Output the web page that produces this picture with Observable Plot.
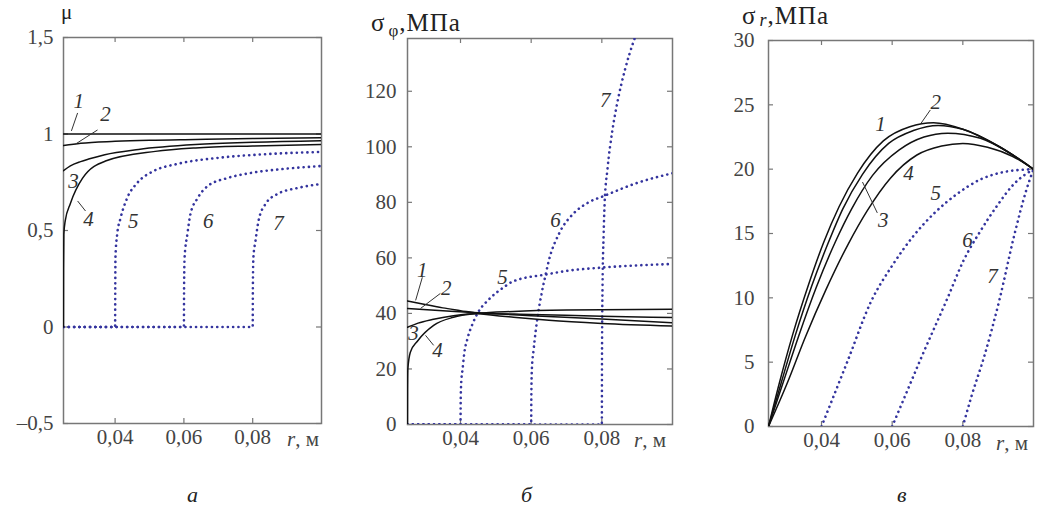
<!DOCTYPE html>
<html><head><meta charset="utf-8">
<script src="https://cdn.jsdelivr.net/npm/d3@7"></script>
<script src="https://cdn.jsdelivr.net/npm/@observablehq/plot@0.6"></script>
<style>
body{margin:0;background:#fff;font-family:"Liberation Serif","Times New Roman","DejaVu Serif",serif;}
#wrap{position:relative;width:1041px;height:508px;overflow:hidden;background:#fff;}
.p{position:absolute;top:0;}
.t{position:absolute;font-size:20px;color:#222;white-space:nowrap;line-height:1;font-family:"Liberation Serif","Times New Roman","DejaVu Serif",serif;}
.t .s{margin-left:3px;margin-right:1px;letter-spacing:0;position:relative;}
</style></head><body><div id="wrap"></div><script>
// ---------- data: r in m ----------
const xTicks = [0.04, 0.06, 0.08];
const xDomain = [0.025, 0.1];

// panel a: mu
const muTicks = [-0.5, 0, 0.5, 1, 1.5];
const mu1 = [[0.025,1],[0.1,1]];
const mu2 = [[0.025,0.94],[0.03,0.952],[0.04,0.962],[0.05,0.968],[0.0634,0.972],[0.08,0.977],[0.1,0.98]];
const mu3 = [[0.025,0.81],[0.027,0.835],[0.03,0.857],[0.0323,0.87],[0.037,0.893],[0.0468,0.92],[0.0634,0.945],[0.08,0.957],[0.1,0.965]];
const mu4 = [[0.025,0],[0.02502,0.3],[0.0251,0.48],[0.0255,0.55],[0.027,0.64],[0.0305,0.77],[0.0372,0.86],[0.0517,0.91],[0.0634,0.928],[0.08,0.938],[0.1,0.945]];
const mu5 = [[0.025,0],[0.04,0],[0.04005,0.2],[0.0401,0.36],[0.0406,0.48],[0.0416,0.565],[0.0435,0.668],[0.0464,0.746],[0.0512,0.808],[0.0581,0.845],[0.0698,0.876],[0.0843,0.896],[0.1,0.907]];
const mu6 = [[0.025,0],[0.06,0],[0.06005,0.2],[0.0602,0.36],[0.061,0.48],[0.0619,0.585],[0.064,0.668],[0.0669,0.73],[0.0727,0.772],[0.0794,0.798],[0.089,0.819],[0.1,0.834]];
const mu7 = [[0.025,0],[0.08,0],[0.08005,0.2],[0.0802,0.36],[0.0808,0.445],[0.0817,0.55],[0.0837,0.637],[0.0872,0.689],[0.093,0.72],[0.1,0.741]];

// panel b: sigma_phi, MPa
const sphTicks = [0, 20, 40, 60, 80, 100, 120];
const sph1 = [[0.025,44.5],[0.03,43.2],[0.035,42],[0.04,41],[0.045,40],[0.055,38.6],[0.065,37.5],[0.08,36.4],[0.1,35.5]];
const sph2 = [[0.025,41.8],[0.035,41],[0.045,40.2],[0.06,39.2],[0.08,38],[0.1,36.6]];
const sph3 = [[0.025,35],[0.028,36.5],[0.032,37.8],[0.038,39.2],[0.045,40],[0.06,39.6],[0.08,39],[0.1,38.5]];
const sph4 = [[0.025,0],[0.02502,12],[0.0251,20],[0.0258,26],[0.0278,30],[0.0324,35.7],[0.038,38.6],[0.045,40],[0.055,40.7],[0.07,41.2],[0.1,41.5]];
const sph5 = [[0.025,0],[0.04,0],[0.04005,8],[0.0402,15],[0.0406,20],[0.041,25],[0.042,31],[0.0435,36.5],[0.0448,40],[0.048,45],[0.052,49.2],[0.055,51.6],[0.0641,54],[0.07,55.3],[0.08,56.5],[0.09,57.3],[0.1,57.8]];
const sph6 = [[0.025,0],[0.06,0],[0.06005,10],[0.0602,20],[0.0607,27],[0.0618,38.6],[0.063,47.5],[0.0641,54],[0.065,59],[0.068,69],[0.072,76],[0.076,79.8],[0.081,82.5],[0.09,87],[0.1,90.5]];
const sph7 = [[0.025,0],[0.08,0],[0.08005,25],[0.0802,50],[0.0805,68],[0.0808,80],[0.0816,92],[0.083,106],[0.0844,116],[0.0866,128],[0.089,138],[0.093,150]];

// panel c: sigma_r, MPa
const srTicks = [0, 5, 10, 15, 20, 25, 30];
const sr1 = [[0.025,0],[0.028,3.3],[0.0318,7.1],[0.0363,11],[0.0406,14.3],[0.045,17.1],[0.0502,19.7],[0.0575,22.2],[0.065,23.3],[0.0717,23.6],[0.08,23.1],[0.09,21.8],[0.1,20]];
const sr2 = [[0.025,0],[0.0285,3.3],[0.0326,7.1],[0.0372,10.9],[0.0418,14.2],[0.046,16.9],[0.0516,19.6],[0.059,22],[0.066,23],[0.073,23.4],[0.08,23.1],[0.09,21.8],[0.1,20]];
const sr3 = [[0.025,0],[0.029,3.3],[0.0335,7],[0.0385,10.8],[0.044,14.4],[0.0485,16.9],[0.0544,19.5],[0.062,21.5],[0.069,22.5],[0.0757,22.8],[0.085,22.4],[0.093,21.3],[0.1,20]];
const sr4 = [[0.025,0],[0.0302,3.3],[0.0355,7],[0.0412,10.6],[0.0476,14.2],[0.053,16.8],[0.0595,19.3],[0.067,21.1],[0.074,21.8],[0.08,22],[0.087,21.7],[0.094,21],[0.1,20]];
const sr5 = [[0.04,0],[0.0474,5.1],[0.054,9.7],[0.06,12.5],[0.066,14.8],[0.072,16.6],[0.078,18],[0.085,19.2],[0.092,19.8],[0.1,20]];
const sr6 = [[0.06,0],[0.064,2.6],[0.068,5.2],[0.0757,10],[0.0802,12.9],[0.085,15.2],[0.0898,17.2],[0.0943,18.8],[0.1,20]];
const sr7 = [[0.08,0],[0.0825,2.4],[0.086,5.4],[0.0905,10],[0.0945,14.8],[0.098,18.4],[0.1,20]];

// curve number annotations [r, value, text]
const labA = [[0.0294,1.171,"1"],[0.0372,1.104,"2"],[0.0279,0.756,"3"],[0.0323,0.56,"4"],[0.0453,0.549,"5"],[0.0671,0.549,"6"],[0.0875,0.539,"7"]];
const leadA = [[0.0273,1.016,0.0291,1.109],[0.0285,0.948,0.0349,1.021],[0.0291,0.653,0.0314,0.601]];
const labB = [[0.0292,55.5,"1"],[0.036,49,"2"],[0.0267,32.8,"3"],[0.0335,26.7,"4"],[0.0519,53,"5"],[0.0669,73.5,"6"],[0.081,116.8,"7"]];
const leadB = [[0.0273,44.7,0.0292,53],[0.0287,41.8,0.0343,47.2],[0.0301,32.1,0.0324,28.5]];
const labC = [[0.0567,23.5,"1"],[0.0723,25.2,"2"],[0.0575,16,"3"],[0.0646,19.7,"4"],[0.0723,18.1,"5"],[0.0813,14.5,"6"],[0.0884,11.7,"7"]];
const leadC = [[0.068,23.5,0.0708,24.6],[0.0516,19,0.0558,16.6]];

// ---------- drawing ----------
const FONT = "'Liberation Serif', 'Times New Roman', 'DejaVu Serif', serif";
const fmt = d => (d < 0 ? "\u2013" : "") + String(Math.abs(d)).replace(".", ",");
const toRows = (arrs) => arrs.flatMap((a, i) => a.map(([x, y]) => ({x, y, id: i})));
const wrap = document.getElementById("wrap");

function panel({left, width, mL, mR, mT, mB, yDomain, yTicks, solids, dots, labels, leaders, pad}) {
  const height = 508;
  const fw = width - mL - mR, fh = height - mT - mB;
  const ink = "#777";
  const chart = Plot.plot({
    width, height, marginLeft: mL, marginRight: mR, marginTop: mT, marginBottom: mB,
    style: {fontFamily: FONT, fontSize: "21px", color: "#333", background: "transparent", overflow: "visible"},
    x: {domain: xDomain, axis: null},
    y: {domain: yDomain, axis: null},
    marks: [
      Plot.frame({stroke: ink, strokeWidth: 1.5}),
      Plot.tickY(yTicks, {y: d => d, insetRight: fw - 5, stroke: ink, strokeWidth: 1.2}),
      Plot.tickY(yTicks, {y: d => d, insetLeft: fw - 5, stroke: ink, strokeWidth: 1.2}),
      Plot.tickX(xTicks, {x: d => d, insetTop: fh - 5, stroke: ink, strokeWidth: 1.2}),
      Plot.tickX(xTicks, {x: d => d, insetBottom: fh - 5, stroke: ink, strokeWidth: 1.2}),
      Plot.axisY(yTicks, {tickSize: 0, tickPadding: pad, tickFormat: fmt, fill: "#444", label: null, fontFamily: FONT, fontSize: 21}),
      Plot.axisX(xTicks, {tickSize: 0, tickPadding: 6, tickFormat: fmt, fill: "#444", label: null, fontFamily: FONT, fontSize: 21}),
      Plot.line(toRows(dots), {x: "x", y: "y", z: "id", curve: "monotone-x", stroke: "#34349e", strokeWidth: 2.6, strokeDasharray: "0.1 5.2", strokeLinecap: "round", clip: true}),
      Plot.line(toRows(solids), {x: "x", y: "y", z: "id", curve: "monotone-x", stroke: "#111", strokeWidth: 1.5, clip: true}),
      Plot.link(leaders, {x1: d => d[0], y1: d => d[1], x2: d => d[2], y2: d => d[3], stroke: "#333", strokeWidth: 1}),
      Plot.text(labels, {x: d => d[0], y: d => d[1], text: d => d[2], fontStyle: "italic", fontSize: 21, fill: "#333", fontFamily: FONT})
    ]
  });
  chart.classList.add("p");
  chart.style.left = left + "px";
  wrap.appendChild(chart);
}

panel({left: 0, width: 340, mL: 63, mR: 19, mT: 37, mB: 85, yDomain: [-0.5, 1.5], yTicks: muTicks,
  solids: [mu1, mu2, mu3, mu4], dots: [mu5, mu6, mu7], labels: labA, leaders: leadA, pad: 10});
panel({left: 345, width: 345, mL: 62, mR: 18, mT: 38, mB: 84, yDomain: [0, 139], yTicks: sphTicks,
  solids: [sph1, sph2, sph3, sph4], dots: [sph5, sph6, sph7], labels: labB, leaders: leadB, pad: 11});
panel({left: 700, width: 341, mL: 68, mR: 8, mT: 40, mB: 82, yDomain: [0, 30], yTicks: srTicks,
  solids: [sr1, sr2, sr3, sr4], dots: [sr5, sr6, sr7], labels: labC, leaders: leadC, pad: 14});

// titles and captions (HTML text)
function txt(html, left, top, extra) {
  const d = document.createElement("div");
  d.className = "t"; d.innerHTML = html;
  d.style.left = left + "px"; d.style.top = top + "px";
  if (extra) Object.assign(d.style, extra);
  wrap.appendChild(d);
}
txt("μ", 61, 2, {fontSize: "21px"});
txt("σ<span class='s' style='font-size:17px;top:5px'>φ</span>,МПа", 371, 10, {fontSize: "25px", letterSpacing: "1px"});
txt("σ<span class='s' style='font-size:18px;top:2px'><i>r</i></span>,МПа", 742, 3, {fontSize: "25px", letterSpacing: "1px"});
txt("<i>r</i>, м", 287, 429, {fontSize: "21px", color: "#444"});
txt("<i>r</i>, м", 634, 430, {fontSize: "21px", color: "#444"});
txt("<i>r</i>, м", 996, 433, {fontSize: "21px", color: "#444"});
txt("<i>а</i>", 187, 484, {fontSize: "22px"});
txt("<i>б</i>", 521, 484, {fontSize: "22px"});
txt("<i>в</i>", 897, 484, {fontSize: "22px"});
</script></body></html>
